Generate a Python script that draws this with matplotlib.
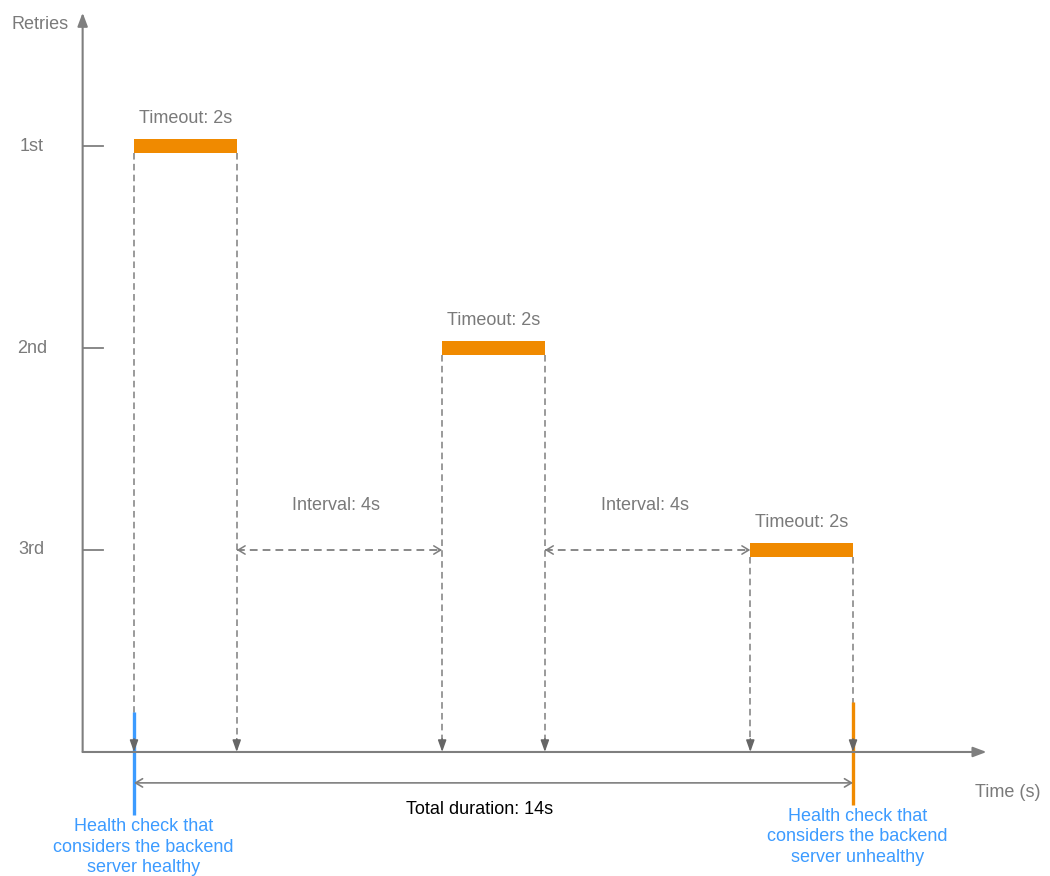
import matplotlib.pyplot as plt

plt.rcParams['font.family'] = ['Liberation Sans', 'DejaVu Sans']

# retry schedule of the health check
retry_labels = ['1st', '2nd', '3rd']
retry_levels = [3, 2, 1]
timeout_starts = [0, 6, 12]
timeout = 2
interval = 4
total_duration = 14

gray = '#7f7f7f'
text_gray = '#7a7a7a'
orange = '#F08A00'
blue = '#3C9BFF'
fs = 13

fig = plt.figure(figsize=(10.5, 8.76), dpi=100)
ax = fig.add_axes([0, 0, 1, 1])
ax.set_xlim(-2.609, 17.835)
ax.set_ylim(-0.614, 3.723)
ax.axis('off')

# axes with arrows
ax.annotate('', xy=(16.6, 0), xytext=(-1, 0),
            arrowprops=dict(arrowstyle='-|>,head_length=0.8,head_width=0.3',
                            color=gray, lw=1.5, shrinkA=0, shrinkB=0))
ax.annotate('', xy=(-1, 3.66), xytext=(-1, 0),
            arrowprops=dict(arrowstyle='-|>,head_length=0.8,head_width=0.3',
                            color=gray, lw=1.5, shrinkA=0, shrinkB=0))
ax.text(-1.83, 3.6, 'Retries', color=text_gray, fontsize=fs, ha='center', va='center')
ax.text(17.02, -0.2, 'Time (s)', color=text_gray, fontsize=fs, ha='center', va='center')

# ticks and labels for retries
for lab, lev in zip(retry_labels, retry_levels):
    ax.plot([-1, -0.6], [lev, lev], color=gray, lw=1.3)
    ax.text(-1.99, lev, lab, color=text_gray, fontsize=fs, ha='center', va='center')

# timeout bars
bar_h = 0.069
ax.barh(retry_levels, [timeout] * 3, left=timeout_starts, height=bar_h, color=orange)

for s, lev in zip(timeout_starts, retry_levels):
    ax.text(s + timeout / 2, lev + 0.135, 'Timeout: %ds' % timeout, color=text_gray,
            fontsize=fs, ha='center', va='center')
    for t in (s, s + timeout):
        ax.plot([t, t], [lev - bar_h / 2, 0.06], color=gray, lw=1.1,
                linestyle=(0, (4.3, 2.8)))
        ax.annotate('', xy=(t, 0), xytext=(t, 0.065),
                    arrowprops=dict(arrowstyle='-|>,head_length=0.7,head_width=0.25',
                                    color='#666666', lw=1.1, shrinkA=0, shrinkB=0))

# interval arrows at the 3rd retry level
lev3 = retry_levels[-1]
for s in timeout_starts[:-1]:
    a, b = s + timeout, s + timeout + interval
    ax.plot([a, b], [lev3, lev3], color=gray, lw=1.3, linestyle=(0, (4.3, 2.8)))
    ax.annotate('', xy=(a, lev3), xytext=(a + 0.08, lev3),
                arrowprops=dict(arrowstyle='->,head_length=0.5,head_width=0.3',
                                color=gray, lw=1.1, shrinkA=0, shrinkB=0))
    ax.annotate('', xy=(b, lev3), xytext=(b - 0.08, lev3),
                arrowprops=dict(arrowstyle='->,head_length=0.5,head_width=0.3',
                                color=gray, lw=1.1, shrinkA=0, shrinkB=0))
    ax.text((a + b) / 2 - 0.06, lev3 + 0.218, 'Interval: %ds' % interval,
            color=text_gray, fontsize=fs, ha='center', va='center')

# total duration
ax.annotate('', xy=(total_duration, -0.153), xytext=(0, -0.153),
            arrowprops=dict(arrowstyle='<->,head_length=0.5,head_width=0.3',
                            color=gray, lw=1.2, shrinkA=0, shrinkB=0))
ax.text(total_duration / 2 - 0.28, -0.287, 'Total duration: %ds' % total_duration,
        color='black', fontsize=fs, ha='center', va='center')

# healthy / unhealthy markers
ax.plot([0, 0], [0.198, -0.312], color=blue, lw=2.4, solid_capstyle='butt')
ax.plot([total_duration, total_duration], [0.248, -0.262], color=orange, lw=2.4,
        solid_capstyle='butt')
ax.text(0.18, -0.325, 'Health check that\nconsiders the backend\nserver healthy',
        color=blue, fontsize=fs, ha='center', va='top', linespacing=1.3)
ax.text(14.08, -0.275, 'Health check that\nconsiders the backend\nserver unhealthy',
        color=blue, fontsize=fs, ha='center', va='top', linespacing=1.3)

fig.savefig('out.png', dpi=100)
